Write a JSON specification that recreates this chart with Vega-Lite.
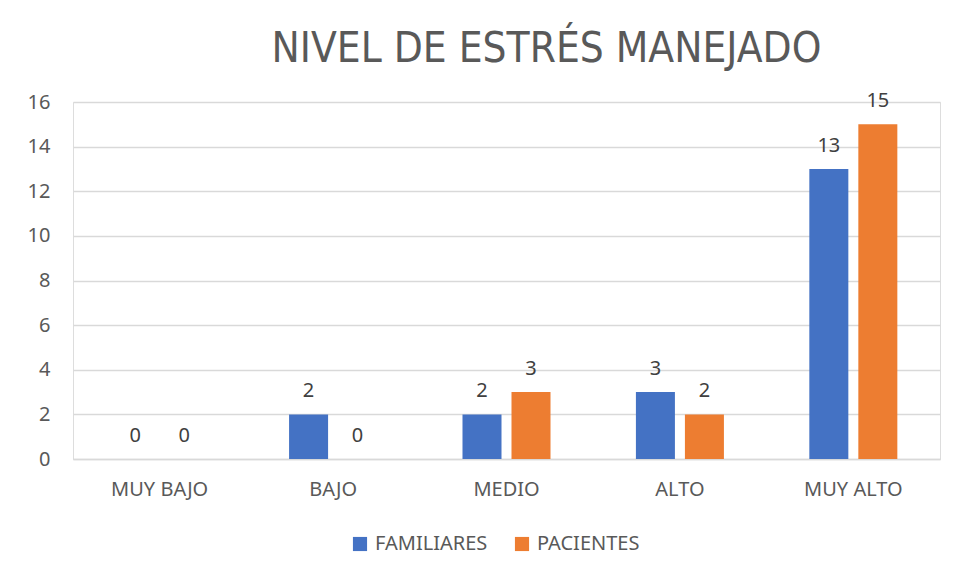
{
  "$schema": "https://vega.github.io/schema/vega-lite/v6.json",
  "width": 867,
  "height": 357,
  "autosize": "none",
  "padding": {"left": 73, "top": 102, "right": 17, "bottom": 119},
  "background": "white",
  "title": {
    "text": "NIVEL DE ESTRÉS MANEJADO",
    "font": "DejaVu Sans Condensed",
    "fontSize": 42,
    "fontWeight": "normal",
    "color": "#595959",
    "anchor": "middle",
    "dx": 40,
    "offset": 20
  },
  "data": {
    "values": [
      {"nivel": "MUY BAJO", "grupo": "FAMILIARES", "valor": 0},
      {"nivel": "MUY BAJO", "grupo": "PACIENTES", "valor": 0},
      {"nivel": "BAJO", "grupo": "FAMILIARES", "valor": 2},
      {"nivel": "BAJO", "grupo": "PACIENTES", "valor": 0},
      {"nivel": "MEDIO", "grupo": "FAMILIARES", "valor": 2},
      {"nivel": "MEDIO", "grupo": "PACIENTES", "valor": 3},
      {"nivel": "ALTO", "grupo": "FAMILIARES", "valor": 3},
      {"nivel": "ALTO", "grupo": "PACIENTES", "valor": 2},
      {"nivel": "MUY ALTO", "grupo": "FAMILIARES", "valor": 13},
      {"nivel": "MUY ALTO", "grupo": "PACIENTES", "valor": 15}
    ]
  },
  "encoding": {
    "x": {
      "field": "nivel",
      "type": "nominal",
      "sort": ["MUY BAJO", "BAJO", "MEDIO", "ALTO", "MUY ALTO"],
      "scale": {"paddingInner": 0.4925, "paddingOuter": 0.246},
      "axis": {
        "title": null,
        "labelAngle": 0,
        "labelFont": "Noto Sans",
        "labelFontSize": 20,
        "labelColor": "#595959",
        "labelPadding": 20,
        "ticks": false,
        "domainColor": "#d9d9d9",
        "domainWidth": 1.5
      }
    },
    "xOffset": {
      "field": "grupo",
      "type": "nominal",
      "scale": {"paddingInner": 0.204, "paddingOuter": 0}
    },
    "y": {
      "field": "valor",
      "type": "quantitative",
      "scale": {"domain": [0, 16], "nice": false},
      "axis": {
        "title": null,
        "values": [0, 2, 4, 6, 8, 10, 12, 14, 16],
        "labelFont": "Noto Sans",
        "labelFontSize": 20,
        "labelColor": "#595959",
        "labelPadding": 23,
        "ticks": false,
        "domain": false,
        "gridColor": "#d9d9d9",
        "gridWidth": 1.5
      }
    }
  },
  "layer": [
    {
      "mark": {"type": "bar"},
      "encoding": {
        "color": {
          "field": "grupo",
          "type": "nominal",
          "scale": {"domain": ["FAMILIARES", "PACIENTES"], "range": ["#4472C4", "#ED7D31"]},
          "legend": {
            "title": null,
            "orient": "none",
            "legendX": 277,
            "legendY": 432,
            "direction": "horizontal",
            "symbolType": "square",
            "symbolSize": 200,
            "symbolStrokeWidth": 0,
            "labelFont": "Noto Sans",
            "labelFontSize": 20,
            "labelColor": "#595959",
            "labelOffset": 5,
            "columnPadding": 24
          }
        }
      }
    },
    {
      "mark": {"type": "text", "dy": -23, "font": "Noto Sans", "fontSize": 20, "color": "#404040"},
      "encoding": {
        "text": {"field": "valor", "type": "quantitative"}
      }
    }
  ]
}
